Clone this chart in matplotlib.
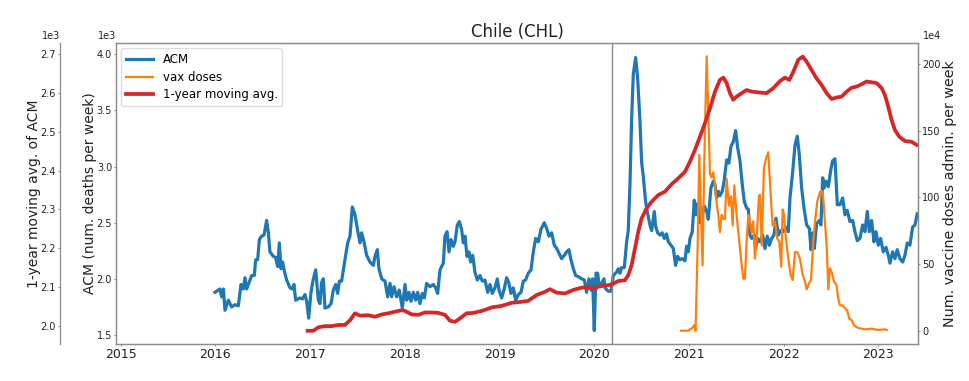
import matplotlib
matplotlib.use("Agg")
import matplotlib.pyplot as plt

# ---------------- data ----------------
# ACM: all-cause mortality, deaths per week (decimal year, value)
acm_points = [
    (2015.996, 1880), (2016.048, 1910), (2016.066, 1840), (2016.084, 1910), (2016.101, 1720),
    (2016.136, 1810), (2016.172, 1750), (2016.207, 1770), (2016.242, 1760), (2016.270, 1950),
    (2016.295, 1910), (2016.312, 2010), (2016.330, 1910), (2016.365, 1990), (2016.383, 2030),
    (2016.411, 2030), (2016.425, 2170), (2016.446, 2170), (2016.464, 2350), (2016.488, 2380),
    (2016.513, 2390), (2016.541, 2520), (2016.559, 2410), (2016.576, 2240), (2016.612, 2200),
    (2016.636, 2190), (2016.657, 2110), (2016.675, 2320), (2016.693, 2090), (2016.710, 2150),
    (2016.728, 2070), (2016.752, 1990), (2016.788, 1920), (2016.812, 1910), (2016.830, 1950),
    (2016.847, 1810), (2016.893, 1830), (2016.918, 1820), (2016.946, 1860), (2016.964, 1800),
    (2016.985, 1650), (2017.009, 1880), (2017.034, 2000), (2017.059, 2080), (2017.087, 1810),
    (2017.104, 1780), (2017.122, 1970), (2017.140, 2000), (2017.157, 1740), (2017.192, 1750),
    (2017.221, 1780), (2017.245, 1900), (2017.270, 1950), (2017.291, 1870), (2017.309, 1980),
    (2017.333, 1980), (2017.368, 2170), (2017.397, 2320), (2017.421, 2380), (2017.446, 2640),
    (2017.474, 2570), (2017.502, 2430), (2017.527, 2320), (2017.544, 2410), (2017.569, 2330),
    (2017.597, 2210), (2017.632, 2150), (2017.668, 2120), (2017.685, 2200), (2017.710, 2260),
    (2017.727, 2090), (2017.756, 2000), (2017.791, 1980), (2017.819, 1840), (2017.844, 1960),
    (2017.861, 1840), (2017.886, 1930), (2017.914, 1840), (2017.942, 1900), (2017.974, 1740),
    (2018.002, 1950), (2018.020, 1810), (2018.044, 1880), (2018.065, 1800), (2018.090, 1880),
    (2018.115, 1810), (2018.136, 1880), (2018.160, 1780), (2018.185, 1870), (2018.206, 1830),
    (2018.231, 1960), (2018.266, 1930), (2018.301, 1950), (2018.326, 1920), (2018.347, 1870),
    (2018.372, 2080), (2018.407, 2140), (2018.424, 2380), (2018.446, 2420), (2018.467, 2240),
    (2018.488, 2350), (2018.512, 2290), (2018.530, 2330), (2018.555, 2480), (2018.576, 2510),
    (2018.600, 2440), (2018.618, 2320), (2018.636, 2380), (2018.657, 2200), (2018.678, 2240),
    (2018.695, 2150), (2018.717, 2210), (2018.741, 2060), (2018.766, 1990), (2018.794, 2030),
    (2018.819, 1980), (2018.847, 1990), (2018.875, 1880), (2018.900, 1950), (2018.924, 1870),
    (2018.952, 1920), (2018.977, 2000), (2018.995, 1900), (2019.023, 1830), (2019.047, 1900),
    (2019.076, 2010), (2019.100, 1960), (2019.121, 1870), (2019.146, 1920), (2019.171, 1810),
    (2019.199, 1860), (2019.227, 1880), (2019.252, 1980), (2019.276, 1990), (2019.304, 2050),
    (2019.333, 2080), (2019.357, 2240), (2019.382, 2360), (2019.410, 2330), (2019.438, 2440),
    (2019.473, 2500), (2019.498, 2450), (2019.523, 2380), (2019.551, 2410), (2019.579, 2300),
    (2019.604, 2270), (2019.628, 2230), (2019.656, 2180), (2019.685, 2210), (2019.709, 2240),
    (2019.734, 2260), (2019.755, 2170), (2019.780, 2090), (2019.804, 2030), (2019.832, 2020),
    (2019.868, 2000), (2019.896, 1990), (2019.920, 1880), (2019.945, 2000), (2019.966, 1900),
    (2019.984, 2000), (2020.001, 1540), (2020.019, 2050), (2020.037, 2050), (2020.054, 1930),
    (2020.079, 1960), (2020.103, 2000), (2020.114, 1920), (2020.149, 1890), (2020.177, 1890),
    (2020.202, 2030), (2020.237, 2060), (2020.255, 2090), (2020.272, 2050), (2020.290, 2100),
    (2020.318, 2100), (2020.343, 2330), (2020.360, 2430), (2020.378, 2840), (2020.396, 3430),
    (2020.413, 3820), (2020.438, 3970), (2020.459, 3790), (2020.484, 3400), (2020.501, 3040),
    (2020.519, 2910), (2020.543, 2690), (2020.565, 2580), (2020.589, 2480), (2020.607, 2430),
    (2020.635, 2600), (2020.649, 2470), (2020.670, 2410), (2020.695, 2390), (2020.719, 2410),
    (2020.741, 2360), (2020.765, 2400), (2020.783, 2330), (2020.811, 2300), (2020.836, 2270),
    (2020.860, 2120), (2020.881, 2200), (2020.906, 2170), (2020.931, 2180), (2020.959, 2160),
    (2020.976, 2290), (2020.994, 2240), (2021.012, 2360), (2021.036, 2420), (2021.057, 2700),
    (2021.075, 2570), (2021.093, 2670), (2021.117, 2500), (2021.142, 2570), (2021.163, 2650),
    (2021.188, 2600), (2021.205, 2530), (2021.233, 2810), (2021.258, 2870), (2021.276, 2840),
    (2021.293, 2720), (2021.311, 2780), (2021.328, 2740), (2021.353, 2780), (2021.374, 2880),
    (2021.399, 3060), (2021.423, 3030), (2021.445, 3180), (2021.469, 3220), (2021.494, 3320),
    (2021.515, 3170), (2021.540, 3050), (2021.564, 2840), (2021.585, 2690), (2021.610, 2630),
    (2021.628, 2620), (2021.645, 2390), (2021.663, 2360), (2021.691, 2390), (2021.705, 2270),
    (2021.726, 2360), (2021.751, 2330), (2021.779, 2390), (2021.804, 2270), (2021.828, 2380),
    (2021.850, 2300), (2021.874, 2360), (2021.899, 2390), (2021.920, 2540), (2021.945, 2390),
    (2021.969, 2430), (2021.997, 2420), (2022.026, 2460), (2022.050, 2420), (2022.068, 2720),
    (2022.096, 2950), (2022.121, 3190), (2022.145, 3270), (2022.166, 3110), (2022.191, 2810),
    (2022.216, 2630), (2022.244, 2480), (2022.272, 2450), (2022.290, 2260), (2022.307, 2410),
    (2022.325, 2270), (2022.349, 2490), (2022.378, 2520), (2022.395, 2480), (2022.413, 2900),
    (2022.430, 2810), (2022.448, 2870), (2022.473, 2820), (2022.497, 2960), (2022.518, 3050),
    (2022.543, 3070), (2022.568, 2660), (2022.596, 2660), (2022.624, 2720), (2022.649, 2570),
    (2022.673, 2610), (2022.701, 2510), (2022.730, 2520), (2022.754, 2420), (2022.779, 2340),
    (2022.807, 2360), (2022.835, 2480), (2022.860, 2420), (2022.884, 2600), (2022.906, 2420),
    (2022.930, 2520), (2022.955, 2330), (2022.976, 2420), (2023.001, 2300), (2023.025, 2360),
    (2023.053, 2240), (2023.082, 2280), (2023.106, 2210), (2023.124, 2140), (2023.152, 2240),
    (2023.177, 2180), (2023.201, 2260), (2023.229, 2180), (2023.258, 2150), (2023.282, 2210),
    (2023.307, 2320), (2023.335, 2300), (2023.363, 2460), (2023.388, 2480), (2023.412, 2580),
]

# vaccine doses administered per week
vax_points = [
    (2020.917, 0), (2020.994, 0), (2021.036, 2e4), (2021.057, 4e4), (2021.071, 0),
    (2021.093, 64e4), (2021.110, 132e4), (2021.128, 89e4), (2021.145, 49e4), (2021.163, 127e4),
    (2021.188, 206e4), (2021.205, 164e4), (2021.223, 118e4), (2021.240, 115e4), (2021.258, 119e4),
    (2021.276, 109e4), (2021.293, 96e4), (2021.311, 87e4), (2021.328, 74e4), (2021.346, 87e4),
    (2021.364, 84e4), (2021.381, 84e4), (2021.399, 114e4), (2021.423, 94e4), (2021.445, 101e4),
    (2021.462, 79e4), (2021.480, 109e4), (2021.504, 87e4), (2021.522, 74e4), (2021.550, 54e4),
    (2021.575, 39e4), (2021.592, 39e4), (2021.610, 67e4), (2021.628, 87e4), (2021.645, 82e4),
    (2021.663, 74e4), (2021.680, 82e4), (2021.698, 54e4), (2021.716, 69e4), (2021.740, 101e4),
    (2021.751, 102e4), (2021.769, 64e4), (2021.793, 122e4), (2021.814, 129e4), (2021.839, 134e4),
    (2021.864, 102e4), (2021.885, 79e4), (2021.909, 82e4), (2021.934, 69e4), (2021.955, 67e4),
    (2021.976, 48e4), (2021.990, 91e4), (2022.004, 87e4), (2022.026, 69e4), (2022.050, 54e4),
    (2022.075, 42e4), (2022.096, 38e4), (2022.121, 59e4), (2022.145, 59e4), (2022.173, 54e4),
    (2022.202, 42e4), (2022.226, 37e4), (2022.244, 31e4), (2022.272, 36e4), (2022.290, 38e4),
    (2022.314, 67e4), (2022.332, 82e4), (2022.356, 97e4), (2022.385, 104e4), (2022.402, 105e4),
    (2022.420, 99e4), (2022.437, 82e4), (2022.455, 64e4), (2022.473, 31e4), (2022.490, 47e4),
    (2022.508, 44e4), (2022.532, 37e4), (2022.561, 34e4), (2022.578, 24e4), (2022.596, 19e4),
    (2022.624, 19e4), (2022.649, 17e4), (2022.673, 15e4), (2022.694, 9e4), (2022.719, 8e4),
    (2022.744, 4e4), (2022.789, 2e4), (2022.860, 1e4), (2022.930, 1.5e4), (2023.001, 0.5e4),
    (2023.071, 1e4), (2023.089, 0.5e4),
]

# 1-year moving average of ACM
ma_points = [
    (2016.974, 1988), (2017.034, 1988), (2017.087, 1997), (2017.157, 2000), (2017.228, 2000),
    (2017.298, 2003), (2017.368, 2003), (2017.421, 2015), (2017.474, 2033), (2017.527, 2027),
    (2017.615, 2028), (2017.685, 2024), (2017.756, 2030), (2017.826, 2033), (2017.896, 2037),
    (2017.967, 2041), (2018.002, 2039), (2018.072, 2030), (2018.143, 2029), (2018.213, 2035),
    (2018.284, 2035), (2018.354, 2034), (2018.424, 2029), (2018.477, 2014), (2018.530, 2011),
    (2018.583, 2020), (2018.653, 2033), (2018.724, 2034), (2018.812, 2039), (2018.917, 2048),
    (2019.023, 2052), (2019.128, 2060), (2019.216, 2062), (2019.304, 2065), (2019.392, 2080),
    (2019.480, 2088), (2019.533, 2095), (2019.604, 2086), (2019.692, 2084), (2019.780, 2093),
    (2019.868, 2099), (2019.956, 2100), (2020.008, 2096), (2020.044, 2102), (2020.114, 2104),
    (2020.184, 2107), (2020.255, 2116), (2020.325, 2118), (2020.360, 2131), (2020.396, 2157),
    (2020.431, 2200), (2020.466, 2243), (2020.501, 2277), (2020.554, 2303), (2020.607, 2320),
    (2020.677, 2337), (2020.748, 2346), (2020.818, 2365), (2020.888, 2380), (2020.959, 2397),
    (2021.012, 2423), (2021.064, 2453), (2021.117, 2487), (2021.170, 2522), (2021.223, 2560),
    (2021.276, 2603), (2021.328, 2633), (2021.364, 2639), (2021.399, 2625), (2021.434, 2599),
    (2021.469, 2582), (2021.504, 2590), (2021.557, 2599), (2021.610, 2607), (2021.663, 2603),
    (2021.733, 2601), (2021.821, 2599), (2021.892, 2612), (2021.962, 2630), (2022.015, 2639),
    (2022.061, 2633), (2022.103, 2654), (2022.156, 2685), (2022.202, 2693), (2022.244, 2680),
    (2022.297, 2658), (2022.349, 2637), (2022.402, 2620), (2022.455, 2599), (2022.508, 2584),
    (2022.561, 2588), (2022.613, 2590), (2022.666, 2603), (2022.719, 2613), (2022.772, 2616),
    (2022.825, 2622), (2022.877, 2629), (2022.930, 2627), (2022.983, 2625), (2023.036, 2612),
    (2023.071, 2594), (2023.106, 2564), (2023.141, 2530), (2023.177, 2504), (2023.222, 2487),
    (2023.282, 2476), (2023.353, 2474), (2023.405, 2466),
]

pandemic_start = 2020.191  # WHO pandemic declaration, 11 March 2020
year_ticks = [2015, 2016, 2017, 2018, 2019, 2020, 2021, 2022, 2023]
acm_ticks = [1500, 2000, 2500, 3000, 3500, 4000]
ma_ticks = [2000, 2100, 2200, 2300, 2400, 2500, 2600, 2700]
vax_ticks = [0, 50e4, 100e4, 150e4, 200e4]

acm_t, acm_v = zip(*acm_points)
vax_t, vax_v = zip(*vax_points)
ma_t, ma_v = zip(*ma_points)

# ---------------- figure ----------------
W, H = 969, 381
fig = plt.figure(figsize=(W / 100, H / 100), dpi=100)
L, R, T, B = 116, 918, 43, 344
ax = fig.add_axes([L / W, 1 - B / H, (R - L) / W, (B - T) / H])
axv = ax.twinx()
axm = ax.twinx()

spine_c = "#8c8c8c"
text_c = "#222222"

l1, = ax.plot(acm_t, acm_v, color="#1f77b4", lw=2.3, label="ACM")
l2, = axv.plot(vax_t, vax_v, color="#ff7f0e", lw=1.6, label="vax doses")
l3, = axm.plot(ma_t, ma_v, color="#d62728", lw=2.7, label="1-year moving avg.")
ax.axvline(pandemic_start, color="#888888", lw=1.0)

ax.set_xlim(2014.95, 2023.42)
ax.set_ylim(1420, 4100)
axm.set_ylim(1954, 2728)
axv.set_ylim(-10e4, 216e4)

ax.set_xticks(year_ticks, [str(y) for y in year_ticks])
ax.set_yticks(acm_ticks)
axm.set_yticks(ma_ticks)
axv.set_yticks(vax_ticks)

ax.ticklabel_format(axis="y", style="sci", scilimits=(3, 3))
axm.ticklabel_format(axis="y", style="sci", scilimits=(3, 3))
axv.ticklabel_format(axis="y", style="sci", scilimits=(4, 4))

# outer left axis for the moving average
OUT = 56  # pixels between the two left spines
axm.yaxis.tick_left()
axm.yaxis.set_label_position("left")
axm.spines["left"].set_position(("outward", OUT * 72 / 100))
for s in ["right", "top", "bottom"]:
    axm.spines[s].set_visible(False)
axm.spines["left"].set_visible(True)

for a in (ax, axv, axm):
    for s in a.spines.values():
        s.set_color(spine_c)
        s.set_linewidth(0.9)
    a.tick_params(axis="y", labelsize=7, colors=spine_c, labelcolor=text_c,
                  length=1.6, pad=1.2)
ax.tick_params(axis="x", labelsize=9, colors=spine_c, labelcolor=text_c,
               length=1.6, pad=1.2)

ax.set_ylabel("ACM (num. deaths per week)", fontsize=10, color=text_c, labelpad=-0.5)
axm.set_ylabel("1-year moving avg. of ACM", fontsize=10, color=text_c, labelpad=-0.5)
axv.set_ylabel("Num. vaccine doses admin. per week", fontsize=10.3, color=text_c,
               labelpad=2)
ax.set_title("Chile (CHL)", fontsize=12, color=text_c, pad=4)

# offset texts ("1e3", "1e4")
ot = ax.yaxis.get_offset_text()
ot.set_fontsize(7)
ot.set_ha("right")
ot.set_x(0.0)
ot = axm.yaxis.get_offset_text()
ot.set_fontsize(7)
ot.set_ha("right")
ot.set_x(-OUT / (R - L))
ot = axv.yaxis.get_offset_text()
ot.set_fontsize(7)
ot.set_ha("left")
ot.set_x(1 + 5 / (R - L))

leg = axm.legend(handles=[l1, l2, l3], loc="upper left", fontsize=8.5,
                 handlelength=2.3, labelspacing=0.4, framealpha=1.0,
                 borderaxespad=0.45)
leg.get_frame().set_edgecolor("#dddddd")

fig.savefig("out.png", dpi=100)
